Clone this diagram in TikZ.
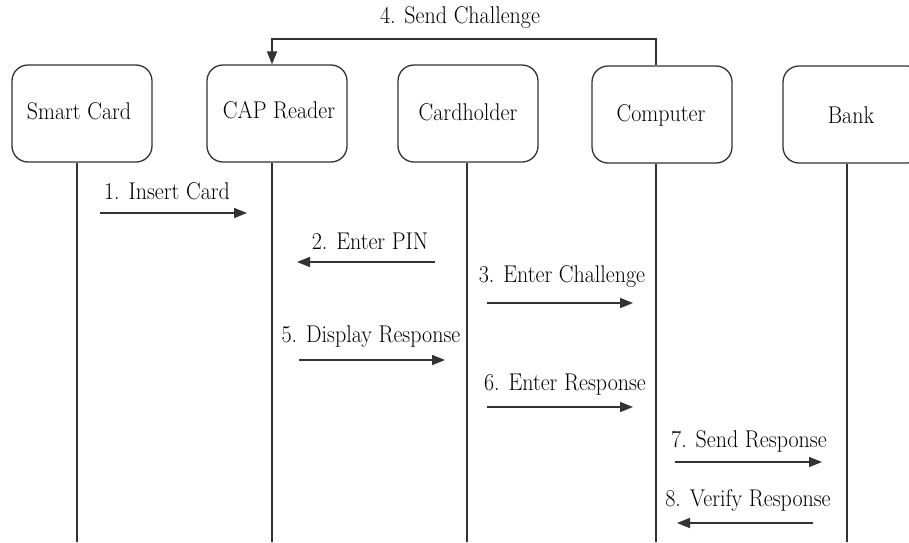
\documentclass[tikz,border=0pt]{standalone}
\usetikzlibrary{arrows.meta}
\newcommand{\txt}[1]{\scalebox{1}[1.1]{#1}}
\begin{document}
\begin{tikzpicture}[x=1pt,y=-1pt,
  actor/.style={draw=black!80,line width=1.3pt,rounded corners=16pt,minimum width=140pt,minimum height=97pt,inner sep=0pt},
  lbl/.style={font=\fontsize{22}{26}\selectfont,inner sep=0pt,text=black},
  life/.style={draw=black!80,line width=1.5pt},
  msg/.style={draw=black!80,line width=1.6pt,-{Triangle[length=13pt,width=10pt]}}]
\useasboundingbox (0,0) rectangle (909,542);
% actors
\node[actor] (sc) at (82,113.5) {};
\node[actor] (cap) at (277,113.5) {};
\node[actor] (ch) at (468,113.5) {};
\node[actor] (pc) at (662,114.5) {};
\node[actor] (bk) at (853,114.5) {};
\node[lbl] at (79,111) {\txt{Smart Card}};
\node[lbl] at (279,110) {\txt{CAP Reader}};
\node[lbl] at (468,112) {\txt{Cardholder}};
\node[lbl] at (661,115) {\txt{Computer}};
\node[lbl] at (851,115) {\txt{Bank}};
% lifelines
\coordinate (e1) at (77,542);
\coordinate (e2) at (272,542);
\coordinate (e3) at (467,542);
\coordinate (e4) at (656,542);
\coordinate (e5) at (847,542);
\draw[life] (sc.south -| e1) -- (e1);
\draw[life] (cap.south -| e2) -- (e2);
\draw[life] (ch.south -| e3) -- (e3);
\draw[life] (pc.south -| e4) -- (e4);
\draw[life] (bk.south -| e5) -- (e5);
% message 4
\coordinate (t4) at (656,39);
\coordinate (c4) at (272,39);
\draw[msg] (pc.north -| t4) -- (t4) -- (c4) -- (cap.north -| c4);
\node[lbl] (l4) at (460,18) {\txt{4. Send Challenge}};
% message 1
\coordinate (a1) at (100,213); \coordinate (b1) at (247,213);
\draw[msg] (a1) -- (b1);
\node[lbl] (l1) at (167,191) {\txt{1. Insert Card}};
% message 2
\coordinate (a2) at (435,262); \coordinate (b2) at (297,262);
\draw[msg] (a2) -- (b2);
\node[lbl] (l2) at (370,241) {\txt{2. Enter PIN}};
% message 3
\coordinate (a3) at (487,303); \coordinate (b3) at (633,303);
\draw[msg] (a3) -- (b3);
\node[lbl] (l3) at (562,277) {\txt{3. Enter Challenge}};
% message 5
\coordinate (a5) at (299,360); \coordinate (b5) at (445,360);
\draw[msg] (a5) -- (b5);
\node[lbl] (l5) at (371,337) {\txt{5. Display Response}};
% message 6
\coordinate (a6) at (487,407); \coordinate (b6) at (633,407);
\draw[msg] (a6) -- (b6);
\node[lbl] (l6) at (565,385) {\txt{6. Enter Response}};
% message 7
\coordinate (a7) at (675,462); \coordinate (b7) at (822,462);
\draw[msg] (a7) -- (b7);
\node[lbl] (l7) at (749,441) {\txt{7. Send Response}};
% message 8
\coordinate (a8) at (813,523); \coordinate (b8) at (677,523);
\draw[msg] (a8) -- (b8);
\node[lbl] (l8) at (748,500) {\txt{8. Verify Response}};
\end{tikzpicture}
\end{document}
